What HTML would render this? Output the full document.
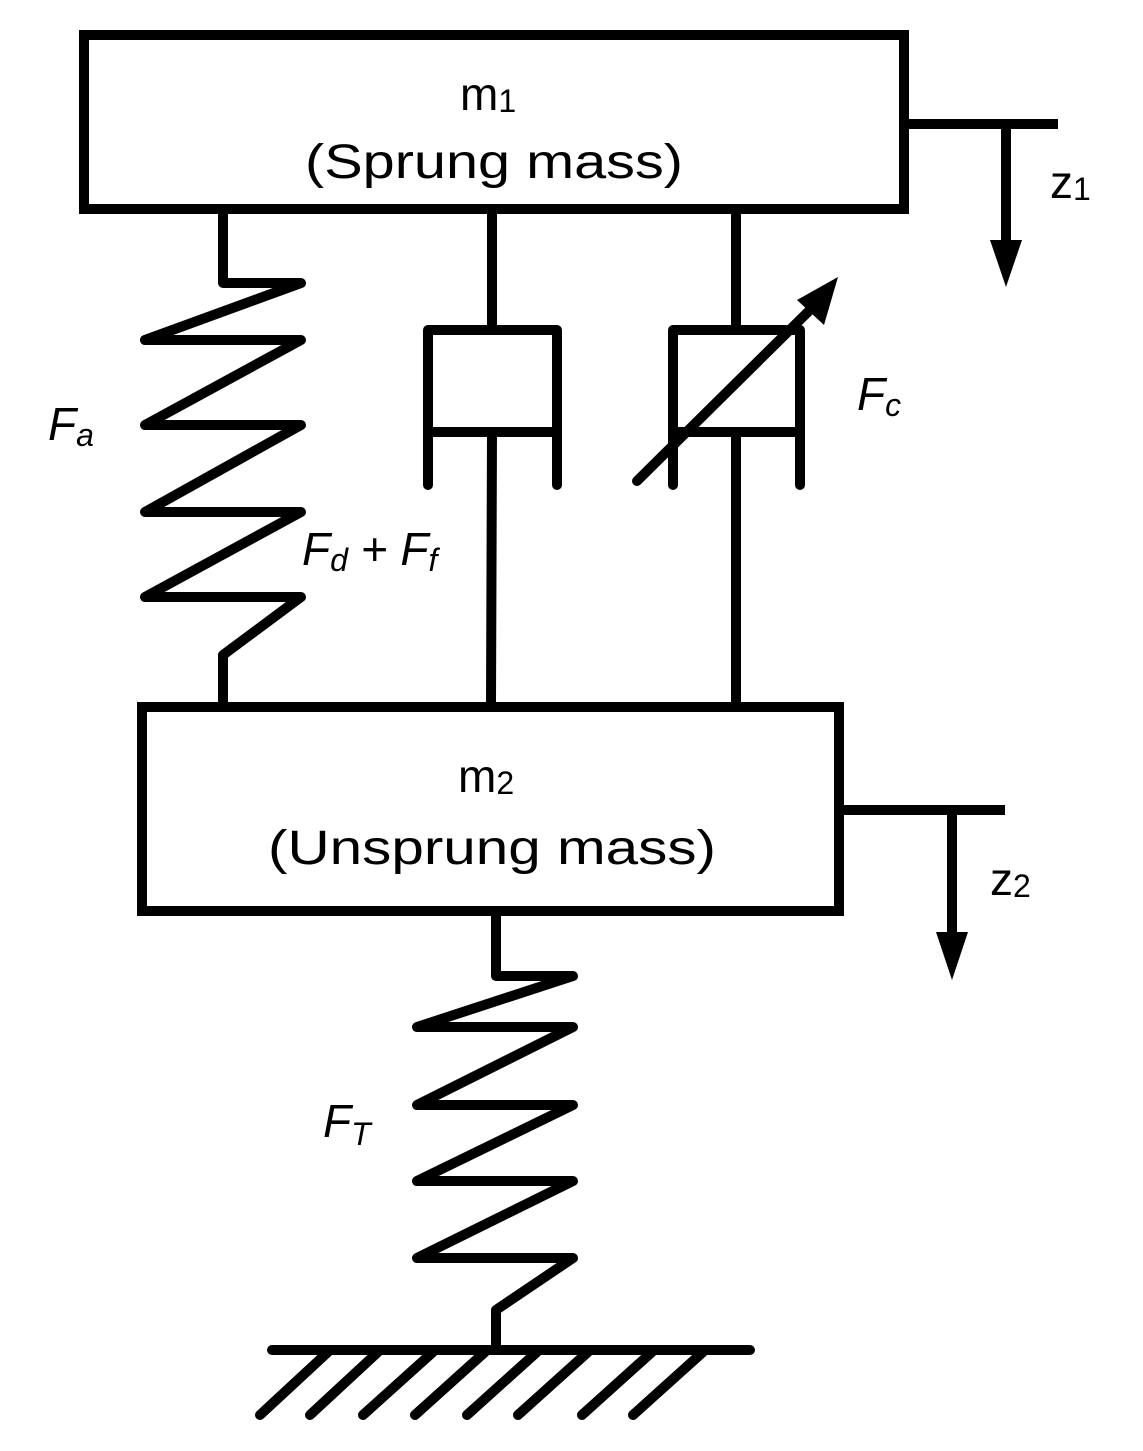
<!DOCTYPE html>
<html><head><meta charset="utf-8"><style>html,body{margin:0;padding:0;background:#fff}svg{display:block}</style></head>
<body>
<svg width="1143" height="1451" viewBox="0 0 1143 1451" xmlns="http://www.w3.org/2000/svg">
<g fill="none" stroke="#000" stroke-width="10" stroke-linejoin="round" stroke-linecap="round">
<rect x="84" y="35" width="820" height="174" stroke-linecap="butt" stroke-linejoin="miter"/>
<rect x="142" y="707" width="697" height="204" stroke-linecap="butt" stroke-linejoin="miter"/>
<polyline points="908,124 1058,124" stroke-linecap="butt"/>
<line x1="1006" y1="124" x2="1006" y2="250" stroke-linecap="butt"/>
<polyline points="840,810 1005,810" stroke-linecap="butt"/>
<line x1="952" y1="810" x2="952" y2="945" stroke-linecap="butt"/>
<polyline points="223,213 223,283 301,283 145,340 301,340 145,425 301,425 145,512 301,512 145,597 301,597 223,655 223,703"/>
<line x1="492" y1="213" x2="492" y2="330" stroke-linecap="butt"/>
<polyline points="428,485 428,330 557,330 557,485"/>
<line x1="428" y1="432" x2="557" y2="432" stroke-linecap="butt"/>
<line x1="492" y1="432" x2="491" y2="703" stroke-linecap="butt"/>
<line x1="736" y1="211" x2="736" y2="330" stroke-linecap="butt"/>
<polyline points="673,485 673,330 800,330 800,485"/>
<line x1="673" y1="432" x2="800" y2="432" stroke-linecap="butt"/>
<line x1="736" y1="428" x2="736" y2="703" stroke-linecap="butt"/>
<line x1="637" y1="481" x2="815" y2="305"/>
<polyline points="496,913 496,976 573,976 417,1027 573,1027 417,1105 573,1105 417,1181 573,1181 417,1258 573,1258 496,1310 496,1350"/>
<line x1="272" y1="1350" x2="750" y2="1350"/>
<line x1="328" y1="1352" x2="260" y2="1415"/>
<line x1="378" y1="1352" x2="310" y2="1415"/>
<line x1="433" y1="1352" x2="363" y2="1415"/>
<line x1="485" y1="1352" x2="415" y2="1415"/>
<line x1="537" y1="1352" x2="467" y2="1415"/>
<line x1="588" y1="1352" x2="518" y2="1415"/>
<line x1="652" y1="1352" x2="582" y2="1415"/>
<line x1="703" y1="1352" x2="633" y2="1415"/>
</g>
<g fill="#000">
<polygon points="838,277 797,300 824,325"/>
<polygon points="990,240 1022,240 1006,287"/>
<polygon points="936,932 968,932 952,980"/>
</g>
<g font-family="'Liberation Sans','NanumGothic',sans-serif" fill="#000">
<text x="460" y="110" font-size="46">m<tspan font-size="32" dy="2">1</tspan></text>
<text x="305" y="178" font-size="48" textLength="378" lengthAdjust="spacingAndGlyphs">(Sprung mass)</text>
<text x="458" y="792" font-size="46">m<tspan font-size="32" dy="2">2</tspan></text>
<text x="268" y="864" font-size="48" textLength="448" lengthAdjust="spacingAndGlyphs">(Unsprung mass)</text>
<text x="1050" y="198" font-size="46">z<tspan font-size="32" dy="2">1</tspan></text>
<text x="990" y="895" font-size="46">z<tspan font-size="32" dy="2">2</tspan></text>
<g font-style="italic">
<text x="48" y="440" font-size="46">F<tspan font-size="32" dy="6">a</tspan></text>
<text x="302" y="565" font-size="46">F<tspan font-size="32" dy="6">d</tspan><tspan dy="-6"> + F</tspan><tspan font-size="32" dy="6">f</tspan></text>
<text x="857" y="410" font-size="46">F<tspan font-size="32" dy="6">c</tspan></text>
<text x="323" y="1137" font-size="46">F<tspan font-size="32" dy="8">T</tspan></text>
</g>
</g>
</svg>
</body></html>
